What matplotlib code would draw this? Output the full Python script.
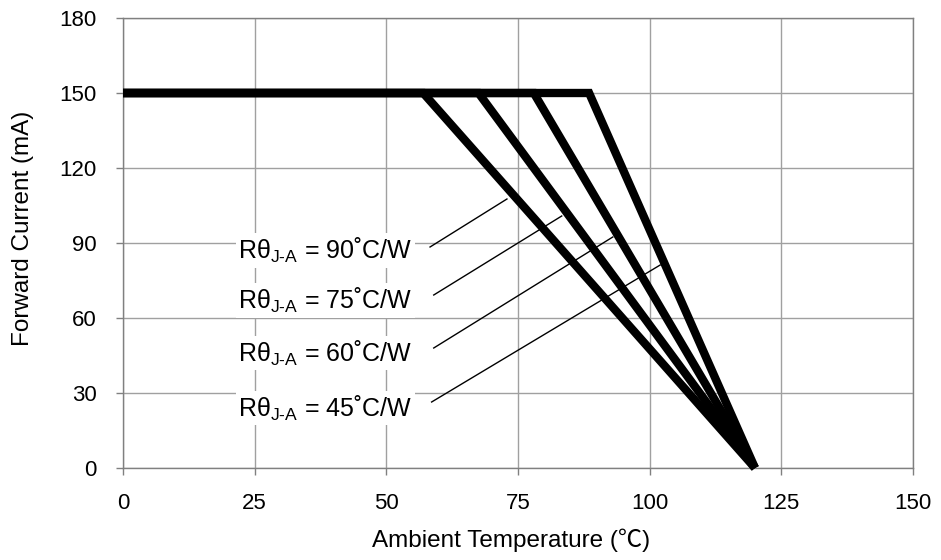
import numpy as np
import matplotlib
matplotlib.use("Agg")
import matplotlib.pyplot as plt

plt.rcParams['font.family'] = ['Liberation Sans', 'Noto Sans CJK SC', 'DejaVu Sans']
plt.rcParams['mathtext.fontset'] = 'custom'
plt.rcParams['mathtext.rm'] = 'Liberation Sans'
plt.rcParams['mathtext.it'] = 'Liberation Sans'

# derating curves: flat at max current until knee, then down to zero at 120 C
r_theta = [90, 75, 60, 45]
knee_temp = [57, 67.5, 78, 88.5]
max_current = 150
zero_temp = 120

# label positions and leader line ends (data units)
label_y = [87, 67, 46, 24]
leader_start = [(58.3, 88.4), (59.0, 69.2), (59.0, 48.0), (58.6, 26.4)]
leader_end = [(72.9, 107.6), (83.3, 100.8), (93.0, 92.4), (102.0, 81.2)]

xticks = [0, 25, 50, 75, 100, 125, 150]
yticks = [0, 30, 60, 90, 120, 150, 180]

fig = plt.figure(figsize=(9.41, 5.6), dpi=100)
ax = fig.add_axes([123/941, 1-468/560, 790/941, 450/560])

ax.set_xlim(0, 150)
ax.set_ylim(0, 180)
ax.set_xticks(xticks)
ax.set_yticks(yticks)
ax.grid(True, color='#a0a0a0', linewidth=1)
ax.set_axisbelow(True)
for s in ax.spines.values():
    s.set_color('#808080')
    s.set_linewidth(1)
ax.tick_params(axis='both', colors='#808080', labelcolor='black', labelsize=16,
               direction='out', length=5, width=1)
ax.tick_params(axis='x', pad=13)
ax.tick_params(axis='y', pad=14)

for k in knee_temp:
    ax.plot([0, k, zero_temp], [max_current, max_current, 0], color='black',
            linewidth=6, solid_joinstyle='miter', solid_capstyle='butt', clip_on=False, zorder=3)

for r, ly, st, en in zip(r_theta, label_y, leader_start, leader_end):
    ax.plot([st[0], en[0]], [st[1], en[1]], color='black', linewidth=1, zorder=4)
    ax.text(55, ly, 'R\u03b8$_{\\mathrm{J\u2010A}}$ = %d\u02daC/W' % r, ha='right', va='center',
            fontsize=18, zorder=5,
            bbox=dict(facecolor='white', edgecolor='none', pad=2))

ax.set_xlabel('Ambient Temperature (\u2103)', fontsize=17.5)
ax.set_ylabel('Forward Current (mA)', fontsize=17.5)
ax.xaxis.set_label_coords(0.491, -0.135)
ax.yaxis.set_label_coords(-0.113, 0.533)

fig.savefig('out.png', dpi=100)
